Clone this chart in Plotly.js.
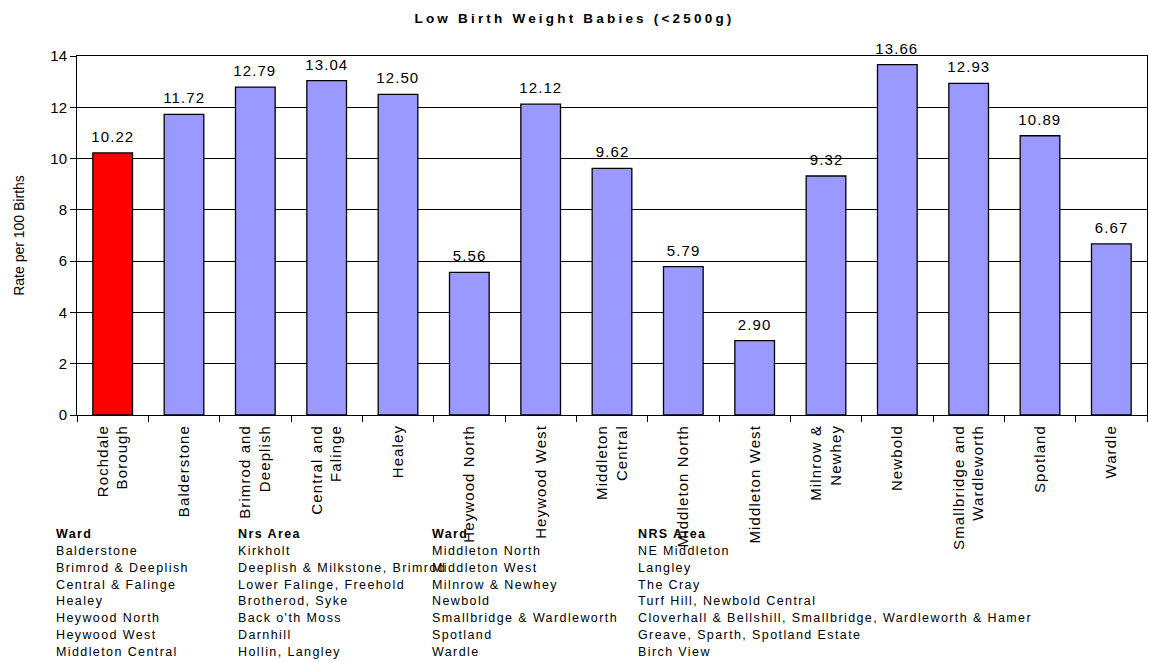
<!DOCTYPE html>
<html><head><meta charset="utf-8">
<script src="https://cdn.plot.ly/plotly-3.0.1.min.js"></script>
<style>body{margin:0;background:#fff}#chart{width:1149px;height:662px}</style>
</head><body><div id="chart"></div>
<script>
const categories = ["Rochdale<br>Borough","Balderstone","Brimrod and<br>Deeplish","Central and<br>Falinge","Healey","Heywood North","Heywood West","Middleton<br>Central","Middleton North","Middleton West","Milnrow &<br>Newhey","Newbold","Smallbridge and<br>Wardleworth","Spotland","Wardle"];
const rates = [10.22,11.72,12.79,13.04,12.50,5.56,12.12,9.62,5.79,2.90,9.32,13.66,12.93,10.89,6.67];
const barColors = ["#FF0000","#9999FF","#9999FF","#9999FF","#9999FF","#9999FF","#9999FF","#9999FF","#9999FF","#9999FF","#9999FF","#9999FF","#9999FF","#9999FF","#9999FF"];
const yTicks = [0,2,4,6,8,10,12,14];

const tableHeaders = ["Ward","Nrs Area","Ward","NRS Area"];
const wardCol1 = ["Balderstone","Brimrod & Deeplish","Central & Falinge","Healey","Heywood North","Heywood West","Middleton Central"];
const areaCol1 = ["Kirkholt","Deeplish & Milkstone, Brimrod","Lower Falinge, Freehold","Brotherod, Syke","Back o'th Moss","Darnhill","Hollin, Langley"];
const wardCol2 = ["Middleton North","Middleton West","Milnrow & Newhey","Newbold","Smallbridge & Wardleworth","Spotland","Wardle"];
const areaCol2 = ["NE Middleton","Langley","The Cray","Turf Hill, Newbold Central","Cloverhall & Bellshill, Smallbridge, Wardleworth & Hamer","Greave, Sparth, Spotland Estate","Birch View"];

const plotL = 77, plotR = 1147, plotT = 56, plotB = 415;
const colPx = [54, 236, 430, 636];
const rowTopPx = 534, rowStep = 16.85;
const px2x = p => (p - plotL) / (plotR - plotL);
const py2y = p => (plotB - p) / (plotB - plotT);
const FONT = 'Arial, Liberation Sans, sans-serif';

const annotations = [];
// value labels above bars
rates.forEach((v, i) => {
  annotations.push({xref:'x', yref:'y', x:categories[i], y:v, yanchor:'bottom', yshift:6,
    text:v.toFixed(2), showarrow:false, font:{family:FONT, size:15, color:'#000'}});
});
// table below chart
const cols = [wardCol1, areaCol1, wardCol2, areaCol2];
cols.forEach((col, ci) => {
  annotations.push({xref:'paper', yref:'paper', x:px2x(colPx[ci]), y:py2y(rowTopPx), xanchor:'left', yanchor:'middle', align:'left',
    text:'<b>'+tableHeaders[ci]+'</b>', showarrow:false, font:{family:FONT, size:12.5, color:'#000'}});
  col.forEach((t, ri) => {
    annotations.push({xref:'paper', yref:'paper', x:px2x(colPx[ci]), y:py2y(rowTopPx + rowStep*(ri+1)), xanchor:'left', yanchor:'middle', align:'left',
      text:t, showarrow:false, font:{family:FONT, size:12.5, color:'#000'}});
  });
});

const trace = {
  type:'bar', x:categories, y:rates,
  marker:{color:barColors, line:{color:'#000', width:1.3}},
  hoverinfo:'none'
};

const layout = {
  width:1149, height:662,
  margin:{l:plotL, r:1149-plotR, t:plotT, b:662-plotB},
  paper_bgcolor:'#fff', plot_bgcolor:'#fff',
  bargap:0.444,
  title:{text:'Low Birth Weight Babies (<2500g)', x:0.5, xref:'container', y:0.973, yanchor:'middle',
    font:{family:FONT, size:13.5, weight:'bold', color:'#000'}},
  xaxis:{type:'category', tickangle:-90, ticks:'outside', ticklen:6, tickcolor:'#000', tickson:'boundaries',
    ticklabelstandoff:3,
    showline:true, linecolor:'#000', linewidth:1, mirror:true, showgrid:false, automargin:false,
    tickfont:{family:FONT, size:15, color:'#000'}},
  yaxis:{range:[0,14], tickvals:yTicks, ticks:'outside', ticklen:6, tickcolor:'#000',
    showline:true, linecolor:'#000', linewidth:1, mirror:true, showgrid:true, gridcolor:'#000', gridwidth:1,
    zeroline:false, automargin:false,
    tickfont:{family:FONT, size:15, color:'#000'},
    title:{text:'Rate per 100 Births', standoff:22, font:{family:FONT, size:14, color:'#000'}}},
  annotations:annotations,
  showlegend:false
};

Plotly.newPlot('chart', [trace], layout, {displayModeBar:false, staticPlot:true}).then(gd => {
  const t = gd.querySelector('.gtitle');
  if (t) t.style.letterSpacing = '3.2px';
  gd.querySelectorAll('.xtick text').forEach(tx => { tx.style.letterSpacing = '1.1px'; });
  gd.querySelectorAll('.annotation').forEach((a, i) => {
    const tx = a.querySelector('text');
    if (!tx) return;
    tx.style.letterSpacing = (i >= rates.length) ? '1.4px' : '1.1px';
  });
});
</script></body></html>
